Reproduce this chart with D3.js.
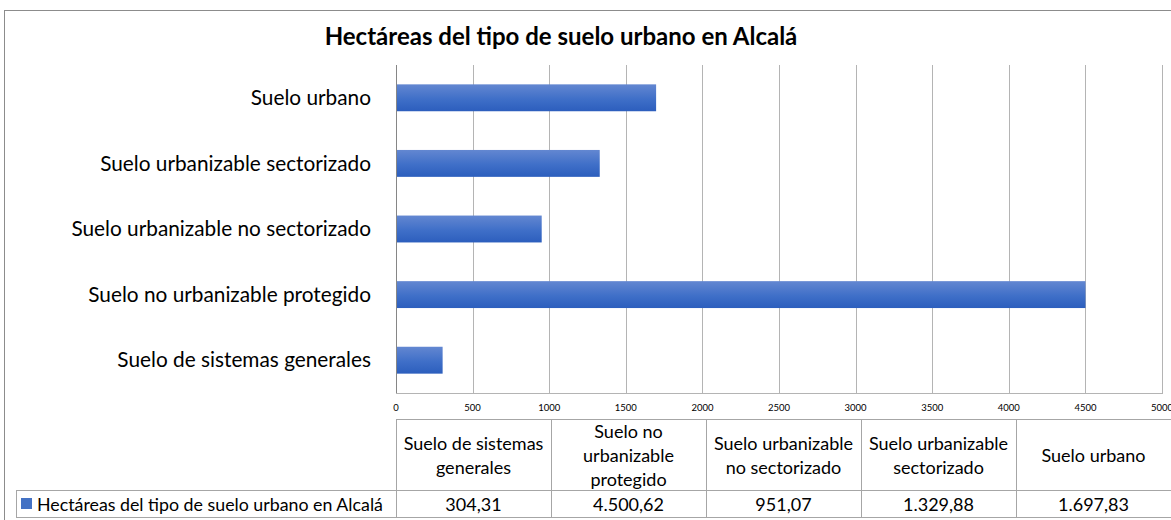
<!DOCTYPE html>
<meta charset="utf-8">
<head>
    <script type="text/javascript" src="https://d3js.org/d3.v7.min.js"></script>
    <style>
        body { margin: 0; background: #fff; }
        text { font-family: Lato, "Noto Sans", sans-serif; fill: #000; }
    </style>
    <title>Hectáreas del tipo de suelo urbano en Alcalá</title>
</head>
<body>
    <div id="chart"></div>

    <script type="text/javascript">

        // data, in the order of the table (bottom bar first)
        var categories = ["Suelo de sistemas generales", "Suelo no urbanizable protegido",
                          "Suelo urbanizable no sectorizado", "Suelo urbanizable sectorizado",
                          "Suelo urbano"];
        var headerLines = [["Suelo de sistemas", "generales"], ["Suelo no", "urbanizable", "protegido"],
                           ["Suelo urbanizable", "no sectorizado"], ["Suelo urbanizable", "sectorizado"],
                           ["Suelo urbano"]];
        var values = [304.31, 4500.62, 951.07, 1329.88, 1697.83];
        var valueLabels = ["304,31", "4.500,62", "951,07", "1.329,88", "1.697,83"];
        var tickValues = [0, 500, 1000, 1500, 2000, 2500, 3000, 3500, 4000, 4500, 5000];
        var seriesName = "Hectáreas del tipo de suelo urbano en Alcalá";

        var w = 1171;
        var h = 520;
        var plotLeft = 396, plotRight = 1162, plotTop = 65, plotBottom = 393;

        var svg = d3.select("#chart")
                    .append("svg")
                    .attr("width", w)
                    .attr("height", h);

        // bar gradient
        var grad = svg.append("defs").append("linearGradient")
                      .attr("id", "barGrad")
                      .attr("x1", 0).attr("y1", 0).attr("x2", 0).attr("y2", 1);
        grad.append("stop").attr("offset", "0%").attr("stop-color", "#6387d1");
        grad.append("stop").attr("offset", "55%").attr("stop-color", "#3f6fc8");
        grad.append("stop").attr("offset", "100%").attr("stop-color", "#2c5ebd");

        // outer border
        svg.append("rect")
           .attr("x", 4.5).attr("y", 10.5)
           .attr("width", w + 10).attr("height", h + 10)
           .attr("fill", "none")
           .attr("stroke", "#8c8c8c");

        svg.append("text")
           .attr("x", 561).attr("y", 45)
           .attr("text-anchor", "middle")
           .style("font-size", "24px")
           .style("font-weight", "bold")
           .text(seriesName);

        var x = d3.scaleLinear()
                  .domain([0, 5000])
                  .range([plotLeft, plotRight]);

        // top-to-bottom order is reversed from table order
        var y = d3.scaleBand()
                  .domain(categories.slice().reverse())
                  .range([plotTop, plotBottom])
                  .paddingInner(0.59)
                  .paddingOuter(0.295);

        // grid lines
        svg.append("g")
           .selectAll("line")
           .data(tickValues)
           .enter()
           .append("line")
           .attr("x1", function(d) { return Math.round(x(d)) + 0.5; })
           .attr("x2", function(d) { return Math.round(x(d)) + 0.5; })
           .attr("y1", plotTop)
           .attr("y2", plotBottom)
           .attr("stroke", function(d) { return d === 0 ? "#868686" : "#b4b4b4"; })
           .attr("stroke-width", 1);

        // bottom border of plot
        svg.append("line")
           .attr("x1", plotLeft).attr("x2", plotRight + 1)
           .attr("y1", plotBottom + 0.5).attr("y2", plotBottom + 0.5)
           .attr("stroke", "#b4b4b4");

        // tick labels
        svg.append("g")
           .selectAll("text")
           .data(tickValues)
           .enter()
           .append("text")
           .attr("x", function(d) { return x(d); })
           .attr("y", 411)
           .attr("text-anchor", "middle")
           .style("font-size", "9.5px")
           .text(function(d) { return d; });

        // bars
        svg.append("g")
           .selectAll("rect")
           .data(values)
           .enter()
           .append("rect")
           .attr("x", x(0) + 1)
           .attr("y", function(d, i) { return y(categories[i]); })
           .attr("width", function(d) { return x(d) - x(0) - 1; })
           .attr("height", y.bandwidth())
           .attr("fill", "url(#barGrad)");

        // category labels
        svg.append("g")
           .selectAll("text")
           .data(categories)
           .enter()
           .append("text")
           .attr("x", 371)
           .attr("y", function(d) { return y(d) + y.bandwidth() / 2; })
           .attr("dy", "0.35em")
           .attr("text-anchor", "end")
           .style("font-size", "20.8px")
           .text(function(d) { return d; });

        // data table
        var colW = 155;
        var tTop = 419, tMid = 490, tBot = 517;
        var tbl = svg.append("g");
        var lineColor = "#a6a6a6";

        tbl.append("line").attr("x1", plotLeft).attr("x2", w)
           .attr("y1", tTop + 0.5).attr("y2", tTop + 0.5).attr("stroke", lineColor);
        tbl.append("line").attr("x1", 16).attr("x2", w)
           .attr("y1", tMid + 0.5).attr("y2", tMid + 0.5).attr("stroke", lineColor);
        tbl.append("line").attr("x1", 16).attr("x2", w)
           .attr("y1", tBot + 0.5).attr("y2", tBot + 0.5).attr("stroke", lineColor);
        tbl.append("line").attr("x1", 16.5).attr("x2", 16.5)
           .attr("y1", tMid).attr("y2", tBot).attr("stroke", lineColor);

        tbl.selectAll("line.col")
           .data(d3.range(categories.length + 1))
           .enter()
           .append("line")
           .attr("class", "col")
           .attr("x1", function(i) { return plotLeft + i * colW + 0.5; })
           .attr("x2", function(i) { return plotLeft + i * colW + 0.5; })
           .attr("y1", tTop)
           .attr("y2", tBot)
           .attr("stroke", lineColor);

        // header cells
        tbl.selectAll("text.head")
           .data(headerLines)
           .enter()
           .append("text")
           .attr("class", "head")
           .attr("text-anchor", "middle")
           .style("font-size", "18px")
           .each(function(lines, i) {
               var cx = plotLeft + i * colW + colW / 2;
               var cy = (tTop + tMid) / 2 + 1;
               var lh = 24;
               var y0 = cy - (lines.length - 1) * lh / 2;
               d3.select(this).selectAll("tspan")
                 .data(lines)
                 .enter()
                 .append("tspan")
                 .attr("x", cx)
                 .attr("y", function(d, j) { return y0 + j * lh; })
                 .attr("dy", "0.35em")
                 .text(function(d) { return d; });
           });

        // value cells
        tbl.selectAll("text.val")
           .data(valueLabels)
           .enter()
           .append("text")
           .attr("class", "val")
           .attr("x", function(d, i) { return plotLeft + i * colW + colW / 2; })
           .attr("y", (tMid + tBot) / 2 + 1)
           .attr("dy", "0.35em")
           .attr("text-anchor", "middle")
           .style("font-size", "18px")
           .text(function(d) { return d; });

        // legend key in table row
        tbl.append("rect")
           .attr("x", 21).attr("y", 498)
           .attr("width", 11).attr("height", 11)
           .attr("fill", "#4472c4");

        tbl.append("text")
           .attr("x", 37)
           .attr("y", (tMid + tBot) / 2 + 1)
           .attr("dy", "0.35em")
           .style("font-size", "17.8px")
           .text(seriesName);

    </script>
</body>
</html>
